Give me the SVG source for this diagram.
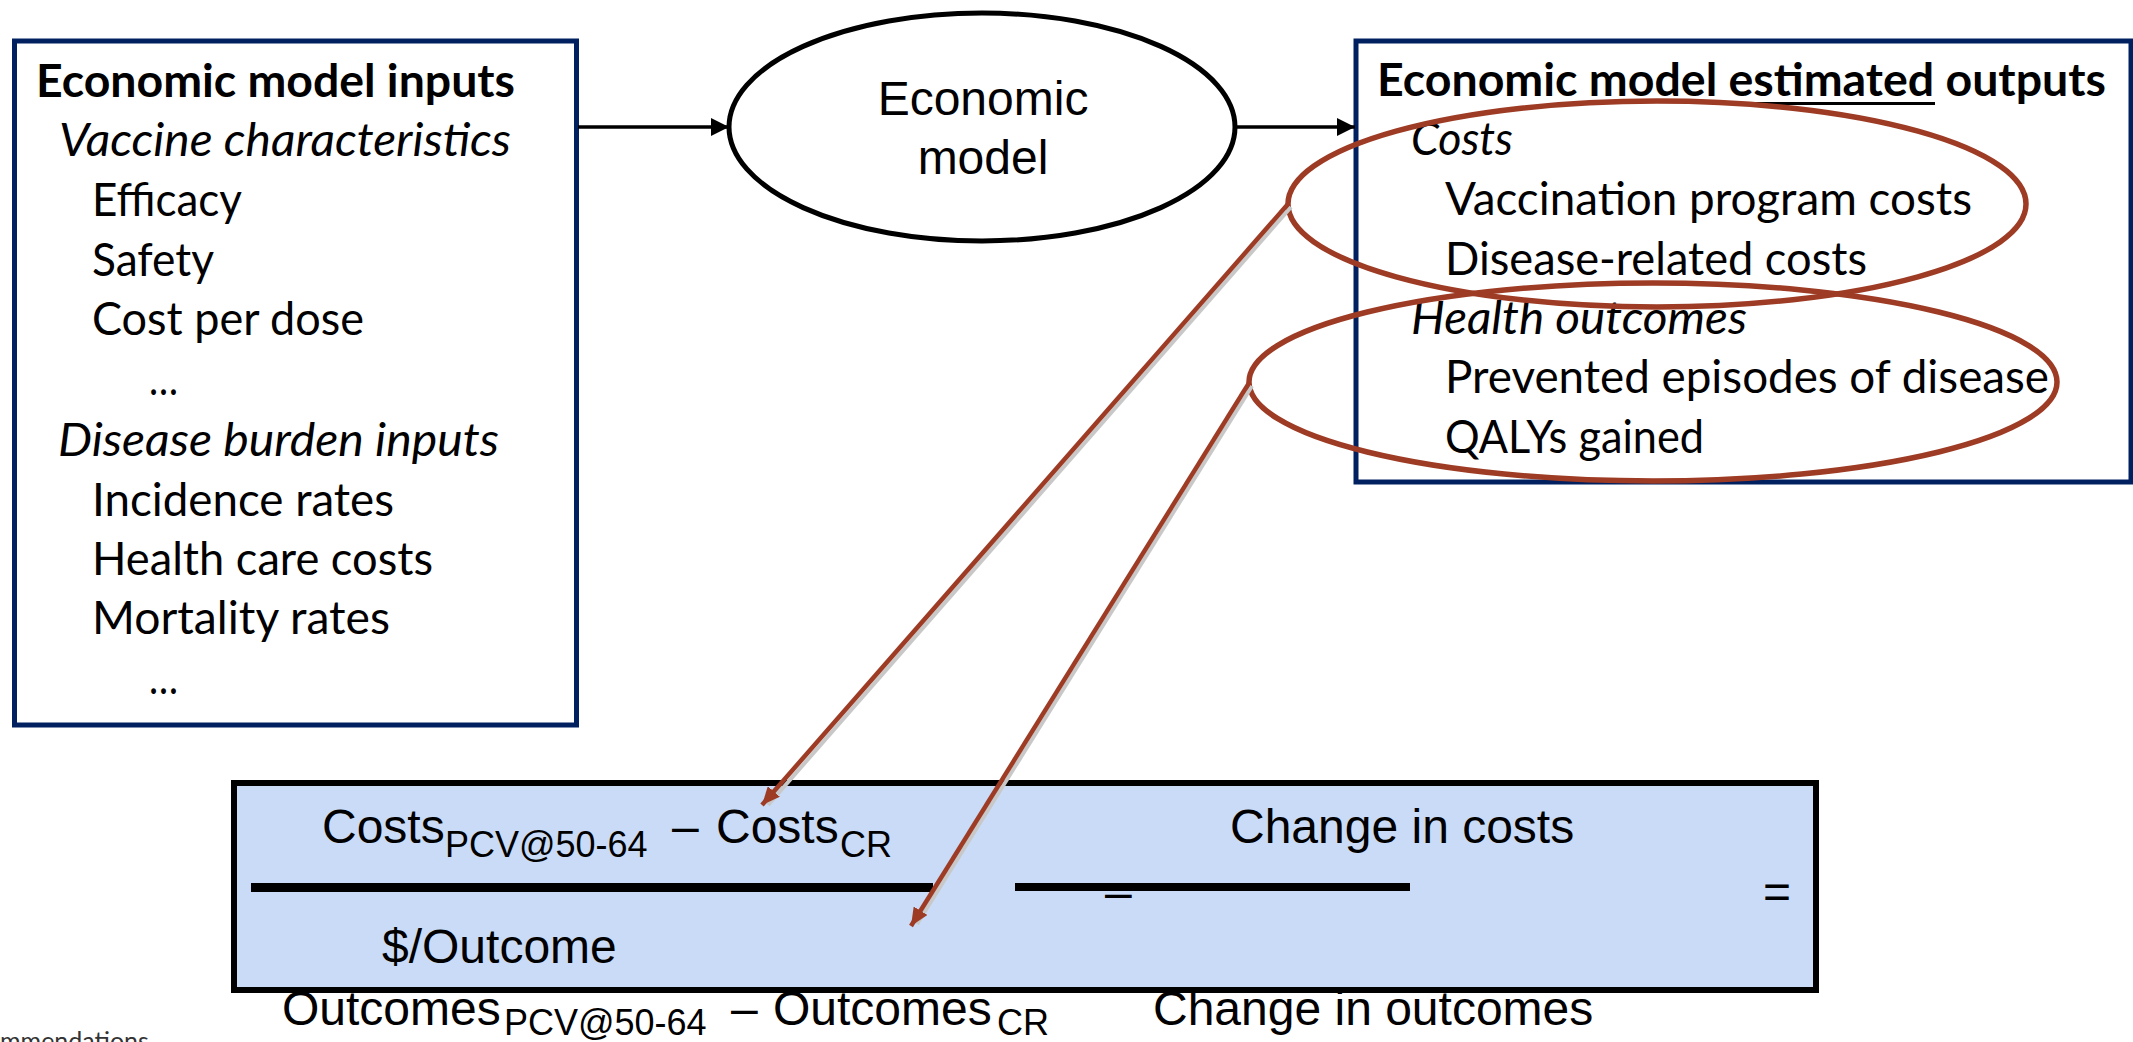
<svg xmlns="http://www.w3.org/2000/svg" width="2133" height="1042" viewBox="0 0 2133 1042">
  <style>
    .box { fill: #ffffff; stroke: #002060; stroke-width: 5; }
    .cal { font-family: Lato, "Open Sans", "Liberation Sans", sans-serif; font-size: 46px; fill: #000; }
    .b { font-weight: bold; }
    .i { font-style: italic; }
    .ar { font-family: "Liberation Sans", Arial, sans-serif; font-size: 48px; fill: #000; }
    .sub { font-size: 36px; }
    .ring { fill: none; stroke: #9d3b24; stroke-width: 5.5; }
    .flow { stroke: #000; stroke-width: 3.5; fill: none; }
    .link { stroke: #9d3b24; stroke-width: 4.5; fill: none; }
    .shade { stroke: #c8c8c8; stroke-width: 4; fill: none; }
    .bar { fill: #000; }
  </style>
  <defs>
    <marker id="headBlack" markerUnits="userSpaceOnUse" markerWidth="20" markerHeight="18" refX="18" refY="9" orient="auto">
      <path d="M0,0 L18,9 L0,18 Z" fill="#000"/>
    </marker>
    <marker id="headRed" markerUnits="userSpaceOnUse" markerWidth="20" markerHeight="16" refX="18" refY="8" orient="auto">
      <path d="M0,0 L18,8 L0,16 Z" fill="#9d3b24"/>
    </marker>
  </defs>

  <rect width="2133" height="1042" fill="#ffffff"/>

  <!-- inputs box -->
  <g id="inputs">
    <rect class="box" x="14.5" y="41" width="562" height="684"/>
    <text class="cal b" x="36" y="97" textLength="479" lengthAdjust="spacingAndGlyphs">Economic model inputs</text>
    <text class="cal i" x="59" y="156" textLength="452" lengthAdjust="spacingAndGlyphs">Vaccine characteristics</text>
    <text class="cal" x="92" y="216" textLength="150" lengthAdjust="spacingAndGlyphs">Efficacy</text>
    <text class="cal" x="92" y="276" textLength="122" lengthAdjust="spacingAndGlyphs">Safety</text>
    <text class="cal" x="92" y="335" textLength="272" lengthAdjust="spacingAndGlyphs">Cost per dose</text>
    <text class="cal" x="149" y="395" textLength="29" lengthAdjust="spacingAndGlyphs">…</text>
    <text class="cal i" x="58" y="456" textLength="441" lengthAdjust="spacingAndGlyphs">Disease burden inputs</text>
    <text class="cal" x="92" y="516" textLength="302" lengthAdjust="spacingAndGlyphs">Incidence rates</text>
    <text class="cal" x="92" y="575" textLength="341" lengthAdjust="spacingAndGlyphs">Health care costs</text>
    <text class="cal" x="92" y="634" textLength="298" lengthAdjust="spacingAndGlyphs">Mortality rates</text>
    <text class="cal" x="149" y="694" textLength="29" lengthAdjust="spacingAndGlyphs">…</text>
  </g>

  <!-- model ellipse -->
  <g id="model">
    <ellipse cx="982" cy="127" rx="253" ry="114" fill="#ffffff" stroke="#000" stroke-width="5"/>
    <text class="ar" x="983" y="115" text-anchor="middle">Economic</text>
    <text class="ar" x="983" y="174" text-anchor="middle">model</text>
  </g>

  <!-- outputs box -->
  <g id="outputs">
    <rect class="box" x="1356" y="41" width="775" height="441"/>
    <text class="cal b" x="1377" y="96" textLength="729" lengthAdjust="spacingAndGlyphs">Economic model estimated outputs</text>
    <rect x="1729" y="102" width="206" height="3" fill="#000"/>
    <text class="cal i" x="1411" y="155" textLength="102" lengthAdjust="spacingAndGlyphs">Costs</text>
    <text class="cal" x="1445" y="215" textLength="527" lengthAdjust="spacingAndGlyphs">Vaccination program costs</text>
    <text class="cal" x="1445" y="275" textLength="422" lengthAdjust="spacingAndGlyphs">Disease-related costs</text>
    <text class="cal i" x="1411" y="334" textLength="336" lengthAdjust="spacingAndGlyphs">Health outcomes</text>
    <text class="cal" x="1445" y="393" textLength="604" lengthAdjust="spacingAndGlyphs">Prevented episodes of disease</text>
    <text class="cal" x="1445" y="453" textLength="259" lengthAdjust="spacingAndGlyphs">QALYs gained</text>
  </g>

  <!-- highlight rings over the outputs -->
  <g id="rings">
    <ellipse class="ring" cx="1657" cy="204" rx="369" ry="103"/>
    <ellipse class="ring" cx="1653" cy="382" rx="404" ry="99"/>
  </g>

  <!-- ratio panel -->
  <g id="ratio">
    <rect x="237" y="786" width="1582" height="207" fill="#bfbfbf" opacity="0.6"/>
    <rect x="234" y="783" width="1582" height="207" fill="#c9dbf6" stroke="#000" stroke-width="6"/>
    <text class="ar" x="322" y="843">Costs</text>
    <text class="ar sub" x="445" y="857">PCV@50-64</text>
    <text class="ar" x="672" y="843">–</text>
    <text class="ar" x="716" y="843">Costs</text>
    <text class="ar sub" x="840" y="857">CR</text>
    <rect class="bar" x="251" y="883" width="682" height="9"/>
    <text class="ar" x="382" y="963">$/Outcome</text>
    <text class="ar" x="1230" y="843">Change in costs</text>
    <rect class="bar" x="1015" y="883" width="395" height="8"/>
    <text class="ar" x="1105" y="909">–</text>
    <text class="ar" x="1763" y="908">=</text>
    <text class="ar" x="282" y="1025">Outcomes</text>
    <text class="ar sub" x="504" y="1035">PCV@50-64</text>
    <text class="ar" x="731" y="1025">–</text>
    <text class="ar" x="773" y="1025">Outcomes</text>
    <text class="ar sub" x="997" y="1035">CR</text>
    <text class="ar" x="1153" y="1025">Change in outcomes</text>
  </g>

  <!-- footer -->
  <text x="0" y="1050" font-family="Lato, 'Liberation Sans', sans-serif" font-size="25" fill="#333">mmendations</text>

  <!-- connectors -->
  <g id="connectors">
    <line class="flow" x1="578" y1="127" x2="729" y2="127" marker-end="url(#headBlack)"/>
    <line class="flow" x1="1236" y1="127" x2="1355" y2="127" marker-end="url(#headBlack)"/>
    <line class="shade" x1="1291" y1="207" x2="768" y2="805"/>
    <line class="shade" x1="1252" y1="386" x2="917" y2="924"/>
    <line class="link" x1="1288" y1="204" x2="762" y2="805" marker-end="url(#headRed)"/>
    <line class="link" x1="1249" y1="383" x2="911" y2="926" marker-end="url(#headRed)"/>
  </g>
</svg>
